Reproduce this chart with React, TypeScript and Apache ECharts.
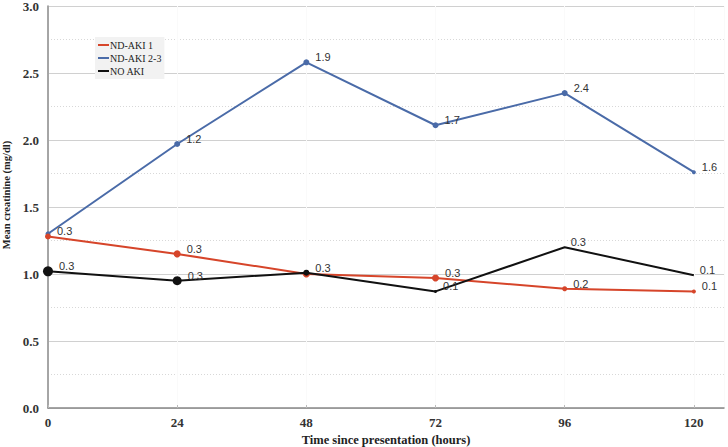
import React, { useEffect, useRef } from "react";
import * as echarts from "echarts";

const hours = [0, 24, 48, 72, 96, 120];
const ndAki1 = [1.28, 1.15, 1.0, 0.97, 0.89, 0.87];
const ndAki23 = [1.3, 1.97, 2.58, 2.11, 2.35, 1.76];
const noAki = [1.02, 0.95, 1.01, 0.87, 1.2, 0.99];
const ndAki1Labels = ["0.3", "0.3", "", "0.3", "0.2", "0.1"];
const ndAki23Labels = ["", "1.2", "1.9", "1.7", "2.4", "1.6"];
const noAkiLabels = ["0.3", "0.3", "0.3", "0.1", "0.3", "0.1"];
const yTicks = ["0.0", "0.5", "1.0", "1.5", "2.0", "2.5", "3.0"];

export default function App() {
  const ref = useRef<HTMLDivElement>(null);
  useEffect(() => {
    if (!ref.current) return;
    const chart = echarts.init(ref.current, undefined, { renderer: "svg" });
    const serif = "'Liberation Serif', 'Times New Roman', serif";
    const mk = (
      name: string,
      vals: number[],
      labels: string[],
      color: string,
      sizes: number[],
      z: number
    ) => ({
      name,
      type: "line",
      z,
      data: hours.map((h, i) => [h, vals[i]]),
      lineStyle: { color, width: 2 },
      itemStyle: { color },
      symbol: "circle",
      symbolSize: (_v: any, p: any) => sizes[p.dataIndex],
      showAllSymbol: true,
      label: {
        show: true,
        position: "right",
        distance: 6,
        offset: [0, -5],
        color: "#333",
        fontSize: 11,
        fontFamily: "'Liberation Sans', Arial, sans-serif",
        formatter: (p: any) => labels[p.dataIndex],
      },
      emphasis: { disabled: true },
    });
    chart.setOption({
      animation: false,
      backgroundColor: "#fff",
      grid: { left: 48, right: 4, top: 6, bottom: 39, containLabel: false, outerBoundsMode: "none" },
      legend: {
        orient: "vertical",
        left: 95,
        top: 37,
        itemWidth: 11,
        itemHeight: 2,
        itemGap: 1,
        padding: [2, 3, 2, 3],
        backgroundColor: "#f2f2f2",
        icon: "rect",
        textStyle: { fontFamily: serif, fontSize: 10, lineHeight: 12, color: "#222", padding: [0, 0, 0, -4] },
        data: ["ND-AKI 1", "ND-AKI 2-3", "NO AKI"],
      },
      graphic: [
        {
          type: "text",
          x: 6,
          y: 195,
          rotation: Math.PI / 2,
          style: {
            text: "Mean creatinine (mg/dl)",
            font: "bold 10.5px 'Liberation Serif', 'Times New Roman', serif",
            fill: "#222",
            align: "center",
            verticalAlign: "middle",
          },
        },
      ],
      xAxis: {
        type: "value",
        min: 0,
        max: 125.6,
        interval: 24,
        name: "Time since presentation (hours)",
        nameLocation: "middle",
        nameGap: 23,
        nameTextStyle: { fontFamily: serif, fontWeight: "bold", fontSize: 12.5, color: "#222" },
        axisLine: { show: true, lineStyle: { color: "#888", width: 1.5 } },
        axisTick: { show: true, inside: true, length: 3, lineStyle: { color: "#bbb" } },
        axisLabel: {
          fontFamily: serif,
          fontWeight: "bold",
          fontSize: 13,
          color: "#333",
          margin: 8,
          showMaxLabel: false,
          formatter: (v: number) => (v % 24 === 0 ? String(v) : ""),
        },
        splitLine: { show: true, lineStyle: { color: "#fafafa", width: 1 } },
      },
      yAxis: {
        type: "value",
        min: 0,
        max: 3,
        interval: 0.5,
        axisLine: { show: true, lineStyle: { color: "#888", width: 1.5 } },
        axisTick: { show: false },
        axisLabel: {
          fontFamily: serif,
          fontWeight: "bold",
          fontSize: 13,
          color: "#333",
          margin: 9,
          formatter: (v: number) => yTicks[Math.round(v / 0.5)] ?? "",
        },
        splitLine: { show: true, lineStyle: { color: "#d0d0d0", width: 1 } },
        minorTick: { show: false, splitNumber: 2 },
        minorSplitLine: { show: true, lineStyle: { color: "#d8d8d8", width: 1, type: [1, 2] } },
      },
      series: [
        mk("ND-AKI 1", ndAki1, ndAki1Labels, "#d6452a", [6, 7, 7, 7, 5, 4], 3),
        mk("ND-AKI 2-3", ndAki23, ndAki23Labels, "#4a6ba8", [5, 6, 6, 6, 6, 4], 2),
        mk("NO AKI", noAki, noAkiLabels, "#111111", [10, 9, 6, 3, 0, 0], 4),
      ],
    });
    return () => chart.dispose();
  }, []);
  return <div ref={ref} style={{ width: 728, height: 447, position: "absolute", left: 0, top: 0 }} />;
}
